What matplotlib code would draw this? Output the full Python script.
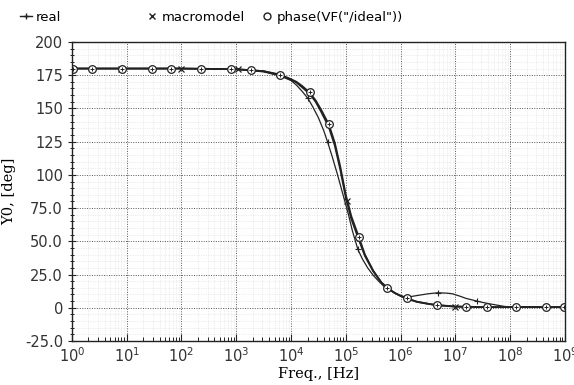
import numpy as np
import matplotlib.pyplot as plt
from matplotlib.lines import Line2D

# log10(freq) and phase [deg]
ideal_logf = [0, 1, 2, 3, 3.5, 3.8, 4.0, 4.1, 4.2, 4.34, 4.45, 4.55, 4.69, 4.8, 4.9, 5.0,
              5.1, 5.24, 5.35, 5.5, 5.65, 5.77, 5.9, 6.0, 6.11, 6.3, 6.5, 6.66, 7.0, 7.5,
              8.0, 9.0]
ideal_deg = [180, 180, 180, 179.5, 178, 175.5, 172, 170, 167, 162, 156, 149, 138, 124, 106, 85,
             69, 53, 40, 28, 19, 14.5, 11, 9, 7, 4.5, 3, 2, 1, 0.5,
             0.5, 0.5]
ideal_mk_logf = [0.02, 0.37, 0.91, 1.46, 1.8, 2.35, 2.9, 3.27, 3.8, 4.34, 4.69, 5.24,
                 5.75, 6.11, 6.66, 7.19, 7.57, 8.1, 8.65, 8.98]
ideal_mk_deg = [180, 180, 180, 180, 180, 180, 179.5, 179, 175.5, 162, 138, 53,
                14.5, 7, 2, 0.8, 0.5, 0.5, 0.5, 0.5]

macro_logf = [0, 1, 2, 3, 3.5, 3.8, 4.0, 4.1, 4.2, 4.34, 4.45, 4.55, 4.69, 4.8, 4.9, 5.0,
              5.1, 5.24, 5.35, 5.5, 5.65, 5.77, 5.9, 6.0, 6.11, 6.3, 6.5, 6.66, 7.0, 7.5,
              8.0, 9.0]
macro_deg = [180, 180, 180, 179.5, 178, 175, 171.5, 169.5, 166, 161, 155, 147.5, 136, 122, 104, 83,
             67, 51, 39, 27.5, 19, 14.5, 11, 9, 7, 4.5, 3, 2, 0.8, 0.5,
             0.5, 0.5]
macro_mk_logf = [0.9, 1.99, 3.03, 5.02, 6.99]
macro_mk_deg = [180, 180, 179.5, 80, 0.8]

real_logf = [0, 1, 2, 3, 3.5, 3.8, 4.0, 4.1, 4.2, 4.31, 4.4, 4.5, 4.6, 4.67, 4.75, 4.85,
             4.95, 5.05, 5.12, 5.22, 5.3, 5.4, 5.5, 5.6, 5.7, 5.77, 5.9, 6.0, 6.11, 6.2,
             6.3, 6.5, 6.68, 6.85, 6.95, 7.1, 7.2, 7.35, 7.5, 7.65, 7.76, 7.9, 8.0, 9.0]
real_deg = [180, 180, 180, 179.5, 177.5, 174.5, 171, 167.5, 163, 157.5, 151, 143, 133, 124.5, 114, 100,
            85, 70, 58, 44, 37, 30, 24.5, 20, 16, 14, 11, 9, 8, 8.5,
            9.2, 10.5, 11.3, 11, 10.5, 8.5, 7, 5.5, 4, 2.8, 2, 1, 0.7, 0.5]
real_mk_logf = [4.31, 4.67, 5.22, 6.68, 7.4]
real_mk_deg = [157.5, 124.5, 44, 11.3, 5]

yticks = [-25, 0, 25, 50, 75, 100, 125, 150, 175, 200]
ytick_labels = ['-25.0', '0', '25.0', '50.0', '75.0', '100', '125', '150', '175', '200']

fig = plt.figure(figsize=(5.74, 3.85), dpi=100)
ax = fig.add_axes([0.1254, 0.1143, 0.8586, 0.7767])

col = '#222222'
f = lambda v: 10.0 ** np.array(v)

ax.plot(f(real_logf), real_deg, color=col, lw=0.9)
ax.plot(f(real_mk_logf), real_mk_deg, ls='none', marker='+', ms=4, color=col, mew=0.8)
ax.plot(f(macro_logf), macro_deg, color=col, lw=1.3)
ax.plot(f(macro_mk_logf), macro_mk_deg, ls='none', marker='x', ms=4.5, color=col, mew=0.9)
ax.plot(f(ideal_logf), ideal_deg, color=col, lw=1.3)
ax.plot(f(ideal_mk_logf), ideal_mk_deg, ls='none', marker='o', ms=5.5, mfc='white',
        mec=col, mew=0.9)
ax.plot(f(ideal_mk_logf), ideal_mk_deg, ls='none', marker='+', ms=3.5, color=col, mew=0.7)

ax.set_xscale('log')
ax.set_xlim(1, 1e9)
ax.set_ylim(-25, 200)
ax.set_xticks([10.0 ** k for k in range(10)])
ax.set_yticks(yticks)
ax.set_yticklabels(ytick_labels)
ax.set_yticks(np.arange(-25, 201, 5), minor=True)
ax.tick_params(axis='both', which='major', labelsize=10.5, color=col, labelcolor='#333333')
ax.tick_params(axis='y', which='both', direction='inout', length=6)
ax.tick_params(axis='y', which='minor', length=3)
ax.tick_params(axis='x', which='major', direction='in', length=5, pad=4)
ax.tick_params(axis='x', which='minor', direction='in', length=3)
ax.grid(True, which='major', color='#555555', ls=(0, (1, 1.5)), lw=0.7)
ax.grid(True, which='minor', color='#dddddd', ls=(0, (1, 1.5)), lw=0.5)
for s in ax.spines.values():
    s.set_color(col)
    s.set_linewidth(1.0)

ax.set_xlabel('Freq., [Hz]', family='DejaVu Serif', fontsize=10.5, labelpad=1)
ax.set_ylabel('Y0, [deg]', family='DejaVu Serif', fontsize=10.5, labelpad=6)

# legend entries across the top
entries = [
    (0.035, Line2D([], [], color=col, lw=1.0, marker='+', ms=4), 'real'),
    (0.255, Line2D([], [], ls='none', color=col, marker='x', ms=4.5), 'macromodel'),
    (0.455, Line2D([], [], ls='none', color=col, marker='o', ms=5, mfc='white'),
     'phase(VF("/ideal"))'),
]
for xpos, h, lab in entries:
    fig.legend([h], [lab], loc='center left', bbox_to_anchor=(xpos, 0.955), frameon=False,
               fontsize=9.5, handlelength=0.9, handletextpad=0.3, borderpad=0, borderaxespad=0)

fig.savefig('out.png', dpi=100)
